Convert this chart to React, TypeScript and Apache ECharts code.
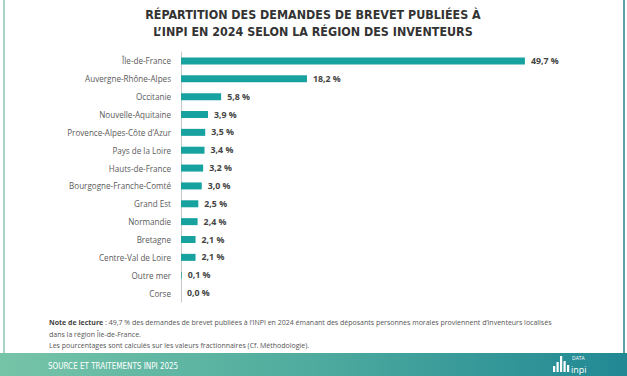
import React, { useEffect, useRef } from "react";
import * as echarts from "echarts";

const regions = [
  "Île-de-France",
  "Auvergne-Rhône-Alpes",
  "Occitanie",
  "Nouvelle-Aquitaine",
  "Provence-Alpes-Côte d’Azur",
  "Pays de la Loire",
  "Hauts-de-France",
  "Bourgogne-Franche-Comté",
  "Grand Est",
  "Normandie",
  "Bretagne",
  "Centre-Val de Loire",
  "Outre mer",
  "Corse",
];
const shares = [49.7, 18.2, 5.8, 3.9, 3.5, 3.4, 3.2, 3.0, 2.5, 2.4, 2.1, 2.1, 0.1, 0.0];

const titleLines = [
  "RÉPARTITION DES DEMANDES DE BREVET PUBLIÉES À",
  "L’INPI EN 2024 SELON LA RÉGION DES INVENTEURS",
];
const noteBold = "Note de lecture";
const noteLine1 =
  " : 49,7 % des demandes de brevet publiées à l’INPI en 2024 émanant des déposants personnes morales proviennent d’inventeurs localisés";
const noteLine2 = "dans la région Île-de-France.";
const noteLine3 = "Les pourcentages sont calculés sur les valeurs fractionnaires (Cf. Méthodologie).";
const sourceText = "SOURCE ET TRAITEMENTS INPI 2025";

const FONT = "'Open Sans', 'Noto Sans', sans-serif";
const COND = "'Liberation Sans Narrow', 'DejaVu Sans Condensed', 'Open Sans', sans-serif";

export default function App() {
  const ref = useRef<HTMLDivElement>(null);
  useEffect(() => {
    if (!ref.current) return;
    const chart = echarts.init(ref.current, undefined, { renderer: "svg" });
    const logoBars = [
      { x: 553, h: 6 },
      { x: 556.5, h: 10 },
      { x: 560, h: 16 },
      { x: 563.5, h: 11 },
      { x: 567, h: 7 },
    ];
    chart.setOption({
      animation: false,
      backgroundColor: "#ffffff",
      grid: { left: 181, right: 100, top: 52, height: 250 },
      xAxis: {
        type: "value",
        min: 0,
        max: 50,
        show: false,
      },
      yAxis: {
        type: "category",
        inverse: true,
        data: regions,
        axisLine: { show: true, lineStyle: { color: "#c8c8c8", width: 1 } },
        axisTick: { show: false },
        axisLabel: {
          color: "#5a5a5a",
          fontSize: 8.1,
          fontFamily: FONT,
          margin: 10,
        },
      },
      series: [
        {
          type: "bar",
          data: shares,
          barWidth: 7,
          itemStyle: { color: "#17a2a0" },
          label: {
            show: true,
            position: "right",
            distance: 6,
            color: "#444444",
            fontSize: 8.8,
            fontWeight: "bold",
            fontFamily: FONT,
            formatter: (p: any) => p.value.toFixed(1).replace(".", ",") + " %",
          },
        },
      ],
      graphic: [
        {
          type: "rect",
          shape: { x: 3, y: 0, width: 2, height: 353 },
          style: { fill: "#a9d3c4" },
        },
        {
          type: "rect",
          shape: { x: 623, y: 0, width: 2, height: 353 },
          style: { fill: "#5f9ea6" },
        },
        {
          type: "text",
          x: 313,
          y: 14,
          style: {
            text: titleLines[0],
            textAlign: "center",
            textVerticalAlign: "middle",
            fontSize: 12.4,
            fontWeight: "bold",
            fontFamily: COND,
            fill: "#333333",
          },
        },
        {
          type: "text",
          x: 313,
          y: 31,
          style: {
            text: titleLines[1],
            textAlign: "center",
            textVerticalAlign: "middle",
            fontSize: 12.4,
            fontWeight: "bold",
            fontFamily: COND,
            fill: "#333333",
          },
        },
        {
          type: "text",
          x: 49,
          y: 322,
          style: {
            text: `{b|${noteBold}}{n|${noteLine1}}`,
            textVerticalAlign: "middle",
            rich: {
              b: { fontSize: 7, fontWeight: "bold", fontFamily: FONT, fill: "#444444" },
              n: { fontSize: 7, fontFamily: FONT, fill: "#555555" },
            },
          },
        },
        {
          type: "text",
          x: 49,
          y: 334,
          style: {
            text: noteLine2,
            textVerticalAlign: "middle",
            fontSize: 7,
            fontFamily: FONT,
            fill: "#555555",
          },
        },
        {
          type: "text",
          x: 49,
          y: 345,
          style: {
            text: noteLine3,
            textVerticalAlign: "middle",
            fontSize: 7,
            fontFamily: FONT,
            fill: "#555555",
          },
        },
        {
          type: "rect",
          shape: { x: 0, y: 353, width: 627, height: 23 },
          style: {
            fill: new echarts.graphic.LinearGradient(0, 0, 1, 0, [
              { offset: 0, color: "#76c4a8" },
              { offset: 0.5, color: "#4eab9e" },
              { offset: 1, color: "#218894" },
            ]),
          },
        },
        {
          type: "text",
          x: 48,
          y: 366,
          style: {
            text: sourceText,
            textVerticalAlign: "middle",
            fontSize: 8,
            fontFamily: COND,
            fill: "#ffffff",
          },
        },
        ...logoBars.map((b) => ({
          type: "rect",
          shape: { x: b.x, y: 372 - b.h, width: 2.2, height: b.h },
          style: { fill: "#ffffff" },
        })),
        {
          type: "text",
          x: 572,
          y: 358,
          style: {
            text: "DATA",
            textVerticalAlign: "middle",
            fontSize: 5,
            fontFamily: FONT,
            fill: "#ffffff",
          },
        },
        {
          type: "text",
          x: 571,
          y: 369,
          style: {
            text: "inpi",
            textVerticalAlign: "middle",
            fontSize: 9,
            fontFamily: FONT,
            fill: "#ffffff",
          },
        },
      ],
    });
    return () => chart.dispose();
  }, []);
  return (
    <div
      ref={ref}
      style={{ position: "fixed", left: 0, top: 0, width: 627, height: 376 }}
    />
  );
}
